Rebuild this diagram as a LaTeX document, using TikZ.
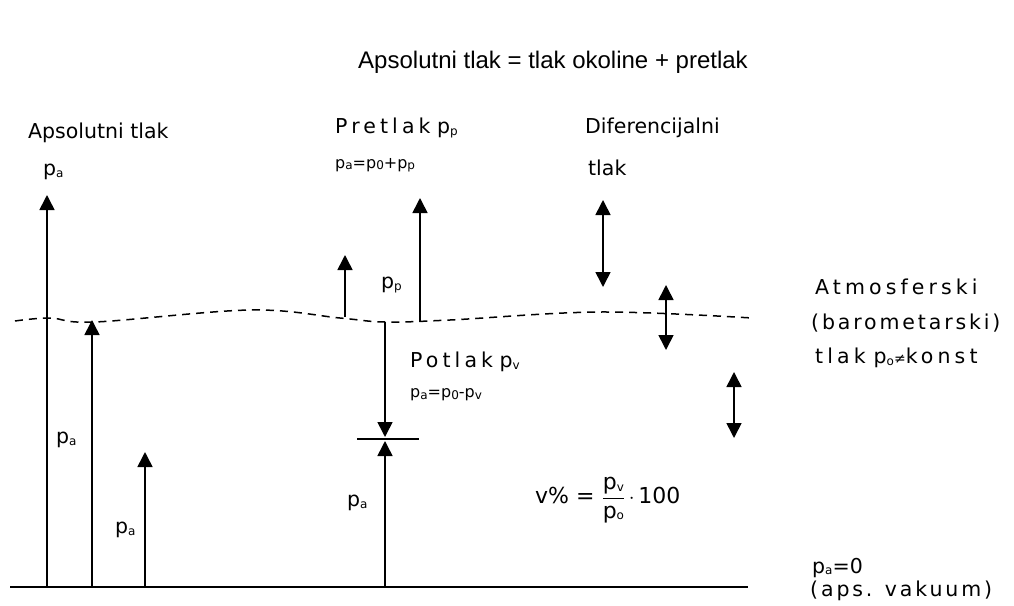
\documentclass[tikz,border=0pt]{standalone}
\usepackage{fontspec}
\setmainfont{DejaVu Sans}
\newfontfamily\titlefont{Liberation Sans}
\newfontfamily\wideface[LetterSpace=20]{DejaVu Sans}
\newfontfamily\midface[LetterSpace=14]{DejaVu Sans}
\usetikzlibrary{arrows.meta}
\newcommand{\ind}[1]{{\fontsize{12}{12}\selectfont\raisebox{-1.5pt}{#1}}}
\tikzset{
  lbl/.style={font=\fontsize{20.5}{24}\selectfont, inner sep=0pt, anchor=west},
  small/.style={font=\fontsize{16}{18}\selectfont, inner sep=0pt, anchor=west},
  pil/.style={line width=1.6pt, -{Triangle[length=15pt,width=15pt]}},
  dbl/.style={line width=1.6pt, {Triangle[length=15pt,width=15pt]}-{Triangle[length=15pt,width=15pt]}}
}
\begin{document}
\begin{tikzpicture}[x=1pt,y=-1pt]
  \useasboundingbox (0,0) rectangle (1014,605);
  % title
  \node[font=\titlefont\fontsize{24}{28}\selectfont, inner sep=0pt] (title) at (553,62)
    {Apsolutni tlak = tlak okoline + pretlak};
  % zero line and atmosphere line
  \coordinate (z0) at (10,587);
  \coordinate (z1) at (748,587);
  \draw[line width=1.8pt] (z0) -- (z1);
  \draw[line width=1.5pt, dash pattern=on 8pt off 6pt] plot[smooth, tension=0.6]
    coordinates {(15,321) (50,318) (95,322) (250,310) (340,318) (385,322) (450,320) (600,312) (752,318)};
  % absolute pressure arrows
  \foreach \x/\y in {47/195,92/320,145/452,385/441} {
    \coordinate (b\x) at (\x,587);
    \coordinate (t\x) at (\x,\y);
    \draw[pil] (b\x) -- (t\x);
  }
  % overpressure arrows
  \foreach \x/\y/\z in {345/317/255,420/322/198} {
    \coordinate (s\x) at (\x,\y);
    \coordinate (e\x) at (\x,\z);
    \draw[pil] (s\x) -- (e\x);
  }
  % underpressure arrow and mark
  \coordinate (v0) at (385,322);
  \coordinate (v1) at (385,437);
  \draw[pil] (v0) -- (v1);
  \coordinate (m0) at (357,439);
  \coordinate (m1) at (419,439);
  \draw[line width=1.3pt] (m0) -- (m1);
  % differential arrows
  \foreach \x/\y/\z in {603/200/287,666/285/350,734/372/438} {
    \coordinate (du\x) at (\x,\y);
    \coordinate (dd\x) at (\x,\z);
    \draw[dbl] (du\x) -- (dd\x);
  }
  % labels
  \node[lbl] (aps) at (28,133) {Apsolutni tlak};
  \node[lbl] (pa1) at (43,172) {p\ind{a}};
  \node[lbl] (pa2) at (56,440) {p\ind{a}};
  \node[lbl] (pa3) at (115,530) {p\ind{a}};
  \node[lbl] (pa4) at (347,503) {p\ind{a}};
  \node[lbl] (pre) at (335,128) {{\wideface Pretlak} p\ind{p}};
  \node[small] (preq) at (335,165) {p\ind{a}=p\ind{0}+p\ind{p}};
  \node[lbl] (pp) at (381,285) {p\ind{p}};
  \node[lbl] (dif) at (585,128) {Diferencijalni};
  \node[lbl] (dift) at (588,168) {tlak};
  \node[lbl] (pot) at (410,362) {{\wideface Potlak} p\ind{v}};
  \node[small] (poteq) at (410,395) {p\ind{a}=p\ind{0}-p\ind{v}};
  \node[lbl] (atm1) at (815,287) {\wideface Atmosferski};
  \node[lbl] (atm2) at (811,323) {\midface (barometarski)};
  \node[lbl] (atm3) at (815,358) {\wideface tlak\hspace{8pt}p\ind{o}{\fontsize{14}{14}\selectfont≠}konst};
  \node[lbl, font=\fontsize{22}{26}\selectfont] (vpct) at (535,500)
    {v\% = $\displaystyle\frac{\mbox{p\ind{v}}}{\mbox{p\ind{o}}}$\,$\cdot$\,100};
  \node[lbl] (vak1) at (812,568) {p\ind{a}=0};
  \node[lbl] (vak2) at (810,591) {\midface (aps. vakuum)};
\end{tikzpicture}
\end{document}
